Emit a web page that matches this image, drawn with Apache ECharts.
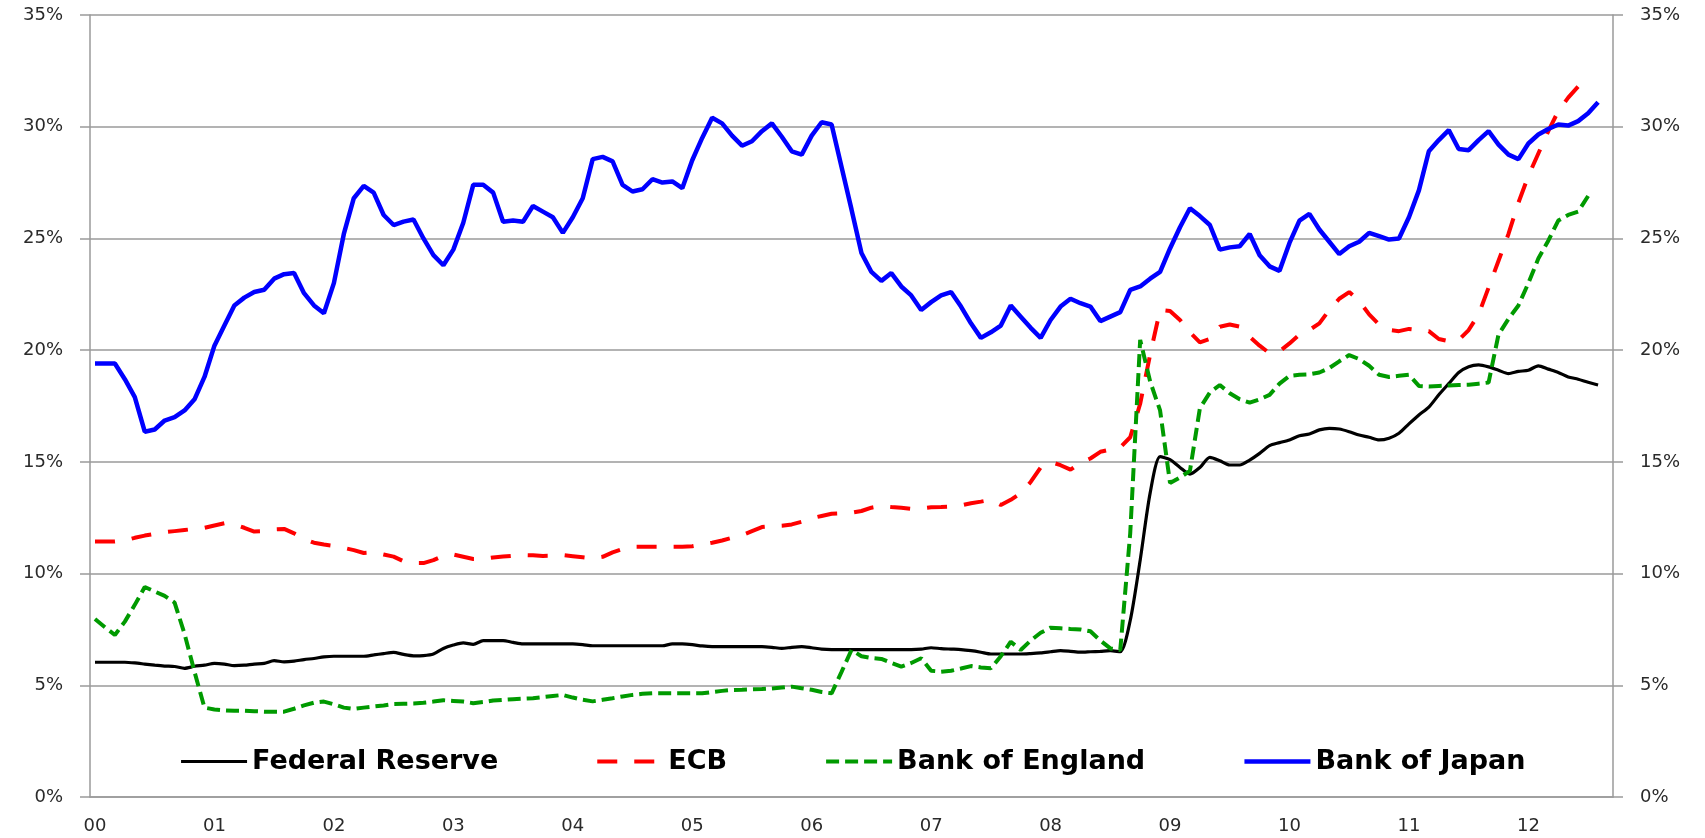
<!DOCTYPE html>
<html>
<head>
<meta charset="utf-8">
<script src="https://cdn.jsdelivr.net/npm/echarts@6/dist/echarts.min.js"></script>
<style>
  html, body { margin: 0; padding: 0; background: #fff; }
  #chart { width: 1705px; height: 838px; }
</style>
</head>
<body>
<div id="chart"></div>
<script>
// years on the x axis (monthly points, Jan 2000 .. Sep 2012)
const years = ['00', '01', '02', '03', '04', '05', '06', '07', '08', '09', '10', '11', '12'];
const monthsInLastYear = 9;

// central bank balance sheets, % of GDP, one value per month
const fedReserve = [
  6.03, 6.03, 6.03, 6.03, 6.0, 5.95, 5.9, 5.86, 5.84, 5.76, 5.85, 5.9,
  5.98, 5.95, 5.88, 5.9, 5.95, 5.98, 6.1, 6.05, 6.08, 6.15, 6.2, 6.27,
  6.3, 6.3, 6.3, 6.3, 6.36, 6.42, 6.47, 6.38, 6.32, 6.33, 6.4, 6.65,
  6.8, 6.9, 6.83, 7.0, 7.0, 7.0, 6.92, 6.85, 6.85, 6.85, 6.85, 6.85,
  6.85, 6.82, 6.77, 6.77, 6.77, 6.77, 6.77, 6.77, 6.77, 6.77, 6.85, 6.85,
  6.82, 6.76, 6.73, 6.73, 6.73, 6.73, 6.73, 6.73, 6.7, 6.65, 6.7, 6.73,
  6.68, 6.62, 6.6, 6.6, 6.6, 6.6, 6.6, 6.6, 6.6, 6.6, 6.6, 6.62,
  6.68, 6.64, 6.62, 6.6, 6.55, 6.48, 6.4, 6.4, 6.4, 6.4, 6.42, 6.45,
  6.5, 6.55, 6.52, 6.48, 6.5, 6.52, 6.55, 6.5, 7.9, 10.6, 13.6, 15.23,
  15.1, 14.75, 14.45, 14.75, 15.2, 15.05, 14.86, 14.86, 15.08, 15.38, 15.73, 15.86,
  15.98, 16.17, 16.25, 16.43, 16.5, 16.47, 16.35, 16.2, 16.1, 15.98, 16.06, 16.28,
  16.7, 17.1, 17.45, 18.0, 18.5, 19.0, 19.26, 19.34, 19.25, 19.1, 18.95, 19.05,
  19.1, 19.3, 19.15, 19.0, 18.8, 18.7, 18.56, 18.44, null
];

const ecb = [
  11.43, 11.43, 11.43, 11.48, 11.6, 11.7, 11.78, 11.85, 11.9, 11.95, 12.0, 12.05,
  12.15, 12.25, 12.2, 12.05, 11.88, 11.9, 11.98, 12.0, 11.8, 11.55, 11.38, 11.3,
  11.24, 11.15, 11.05, 10.92, 10.95, 10.85, 10.76, 10.55, 10.47, 10.47, 10.6, 10.8,
  10.85, 10.75, 10.65, 10.65, 10.72, 10.76, 10.8, 10.83, 10.82, 10.79, 10.8, 10.83,
  10.78, 10.73, 10.68, 10.75, 10.95, 11.1, 11.2, 11.2, 11.2, 11.2, 11.2, 11.2,
  11.22, 11.3, 11.38, 11.48, 11.6, 11.72, 11.9, 12.08, 12.12, 12.14, 12.2, 12.32,
  12.48, 12.58, 12.68, 12.7, 12.72, 12.8, 12.95, 13.03, 12.98, 12.95, 12.9, 12.92,
  12.97, 12.98, 13.0, 13.05, 13.15, 13.22, 13.3, 13.07, 13.3, 13.6, 14.1, 14.75,
  15.0, 14.85, 14.65, 14.95, 15.15, 15.45, 15.55, 15.65, 16.1, 17.6, 19.8, 21.8,
  21.75, 21.35, 20.8, 20.35, 20.5, 21.05, 21.15, 21.05, 20.6, 20.2, 19.86, 19.95,
  20.3, 20.7, 20.9, 21.2, 21.8, 22.3, 22.6, 22.2, 21.6, 21.15, 20.9, 20.85,
  20.95, 20.9, 20.85, 20.5, 20.4, 20.45, 20.9, 21.6, 22.8, 24.0, 25.2, 26.6,
  27.8, 28.8, 29.8, 30.7, 31.3, 31.8, 32.2, null, null
];

const bankOfEngland = [
  7.97, 7.6, 7.25, 7.85, 8.6, 9.4, 9.2, 9.0, 8.7, 7.3, 5.6, 4.0,
  3.92, 3.88, 3.86, 3.86, 3.84, 3.82, 3.82, 3.82, 3.95, 4.1, 4.22, 4.27,
  4.15, 4.0, 3.94, 4.0, 4.05, 4.1, 4.16, 4.17, 4.18, 4.22, 4.27, 4.33,
  4.3, 4.27, 4.2, 4.25, 4.32, 4.35, 4.38, 4.4, 4.42, 4.47, 4.52, 4.57,
  4.45, 4.35, 4.28, 4.35, 4.42, 4.5, 4.57, 4.62, 4.64, 4.64, 4.64, 4.64,
  4.64, 4.64, 4.7, 4.75, 4.79, 4.8, 4.82, 4.83, 4.86, 4.9, 4.94, 4.87,
  4.8, 4.7, 4.64, 5.6, 6.58, 6.3, 6.22, 6.18, 6.0, 5.83, 6.0, 6.21,
  5.65, 5.61, 5.65, 5.75, 5.86, 5.8, 5.76, 6.3, 6.95, 6.58, 7.0, 7.35,
  7.58, 7.55, 7.52, 7.5, 7.42, 7.0, 6.65, 6.58, 11.8, 20.46, 18.6, 17.3,
  14.05, 14.3, 14.6, 17.4, 18.1, 18.44, 18.07, 17.8, 17.65, 17.8, 18.0, 18.5,
  18.85, 18.9, 18.92, 19.0, 19.2, 19.5, 19.78, 19.6, 19.3, 18.9, 18.8, 18.85,
  18.9, 18.4, 18.37, 18.4, 18.42, 18.44, 18.45, 18.5, 18.55, 20.7, 21.4, 22.0,
  23.0, 24.1, 24.9, 25.8, 26.05, 26.2, 26.9, null, null
];

const bankOfJapan = [
  19.4, 19.4, 19.4, 18.7, 17.9, 16.35, 16.45, 16.85, 17.0, 17.3, 17.8, 18.8,
  20.2, 21.1, 22.0, 22.35, 22.6, 22.7, 23.2, 23.4, 23.45, 22.55, 22.0, 21.65,
  23.0, 25.2, 26.8, 27.35, 27.05, 26.05, 25.6, 25.75, 25.85, 25.0, 24.25, 23.8,
  24.5, 25.7, 27.4, 27.4, 27.05, 25.75, 25.8, 25.75, 26.45, 26.2, 25.95, 25.25,
  25.95, 26.8, 28.55, 28.65, 28.45, 27.4, 27.1, 27.2, 27.65, 27.5, 27.55, 27.25,
  28.5, 29.5, 30.4, 30.15, 29.6, 29.15, 29.35, 29.8, 30.15, 29.55, 28.9, 28.75,
  29.6, 30.2, 30.1, 28.2, 26.3, 24.35, 23.5, 23.1, 23.45, 22.85, 22.45, 21.8,
  22.15, 22.45, 22.6, 21.95, 21.2, 20.55, 20.8, 21.1, 22.0, 21.5, 21.0, 20.55,
  21.35, 21.95, 22.3, 22.1, 21.95, 21.3, 21.5, 21.7, 22.7, 22.85, 23.2, 23.5,
  24.55, 25.5, 26.35, 26.0, 25.6, 24.5, 24.6, 24.65, 25.2, 24.25, 23.75, 23.55,
  24.8, 25.8, 26.1, 25.4, 24.85, 24.3, 24.65, 24.85, 25.25, 25.1, 24.95, 25.0,
  25.95, 27.15, 28.9, 29.4, 29.85, 29.0, 28.95, 29.4, 29.8, 29.2, 28.75, 28.55,
  29.25, 29.65, 29.9, 30.1, 30.05, 30.25, 30.6, 31.1, null
];

const yTicks = [0, 5, 10, 15, 20, 25, 30, 35];

// category per month: '2000-01' ...
const months = [];
years.forEach((y, i) => {
  const n = i === years.length - 1 ? monthsInLastYear : 12;
  for (let m = 1; m <= n; m++) months.push('20' + y + '-' + String(m).padStart(2, '0'));
});

const chart = echarts.init(document.getElementById('chart'));

const gray = '#9a9a9a';
const labelFont = {
  color: '#2a2a2a',
  fontSize: 18,
  fontFamily: 'DejaVu Sans'
};

// line looks, shared by series and legend icons
const styles = {
  'Federal Reserve': {color: '#000', width: 3.2, type: 'solid'},
  'ECB': {color: '#ff0000', width: 4, type: [20, 17]},
  'Bank of England': {color: '#009a00', width: 4, type: [13, 6]},
  'Bank of Japan': {color: '#0000ff', width: 4.5, type: 'solid'}
};

const yAxisBase = (position) => ({
  type: 'value',
  position: position,
  min: yTicks[0],
  max: yTicks[yTicks.length - 1],
  interval: 5,
  axisLine: {show: true, lineStyle: {color: gray, width: 1.5}},
  axisTick: {show: true, length: 10, lineStyle: {color: gray, width: 1.5}},
  axisLabel: Object.assign({formatter: '{value}%', margin: 27}, labelFont),
  splitLine: {show: position === 'left', lineStyle: {color: gray, width: 1.5}}
});

const makeSeries = (name, data, extra) => Object.assign({
  name: name,
  type: 'line',
  data: data,
  symbol: 'none',
  lineStyle: styles[name],
  itemStyle: {color: styles[name].color}
}, extra || {});

const option = {
  animation: false,
  backgroundColor: '#fff',
  grid: {left: 90, right: 92, top: 15, bottom: 41},
  legend: {
    left: 'center',
    top: 743,
    itemWidth: 66,
    itemHeight: 14,
    itemGap: 97,
    itemStyle: {opacity: 0},
    textStyle: {
      fontFamily: 'DejaVu Sans',
      fontWeight: 'bold',
      fontSize: 27,
      color: '#000'
    },
    data: Object.keys(styles).map(name => ({
      name: name,
      lineStyle: {width: styles[name].width, type: styles[name].type, color: styles[name].color}
    }))
  },
  xAxis: {
    type: 'category',
    boundaryGap: true,
    data: months,
    axisLine: {lineStyle: {color: gray, width: 1.5}},
    axisTick: {interval: 2, length: 7, lineStyle: {color: gray, width: 1.5}},
    axisLabel: Object.assign({
      interval: 11,
      margin: 20,
      formatter: (v) => v.slice(2, 4)
    }, labelFont)
  },
  yAxis: [yAxisBase('left'), yAxisBase('right')],
  series: [
    makeSeries('Federal Reserve', fedReserve, {smooth: 0.25}),
    makeSeries('ECB', ecb),
    makeSeries('Bank of England', bankOfEngland),
    makeSeries('Bank of Japan', bankOfJapan)
  ]
};

chart.setOption(option);
window.addEventListener('resize', () => chart.resize());
</script>
</body>
</html>
